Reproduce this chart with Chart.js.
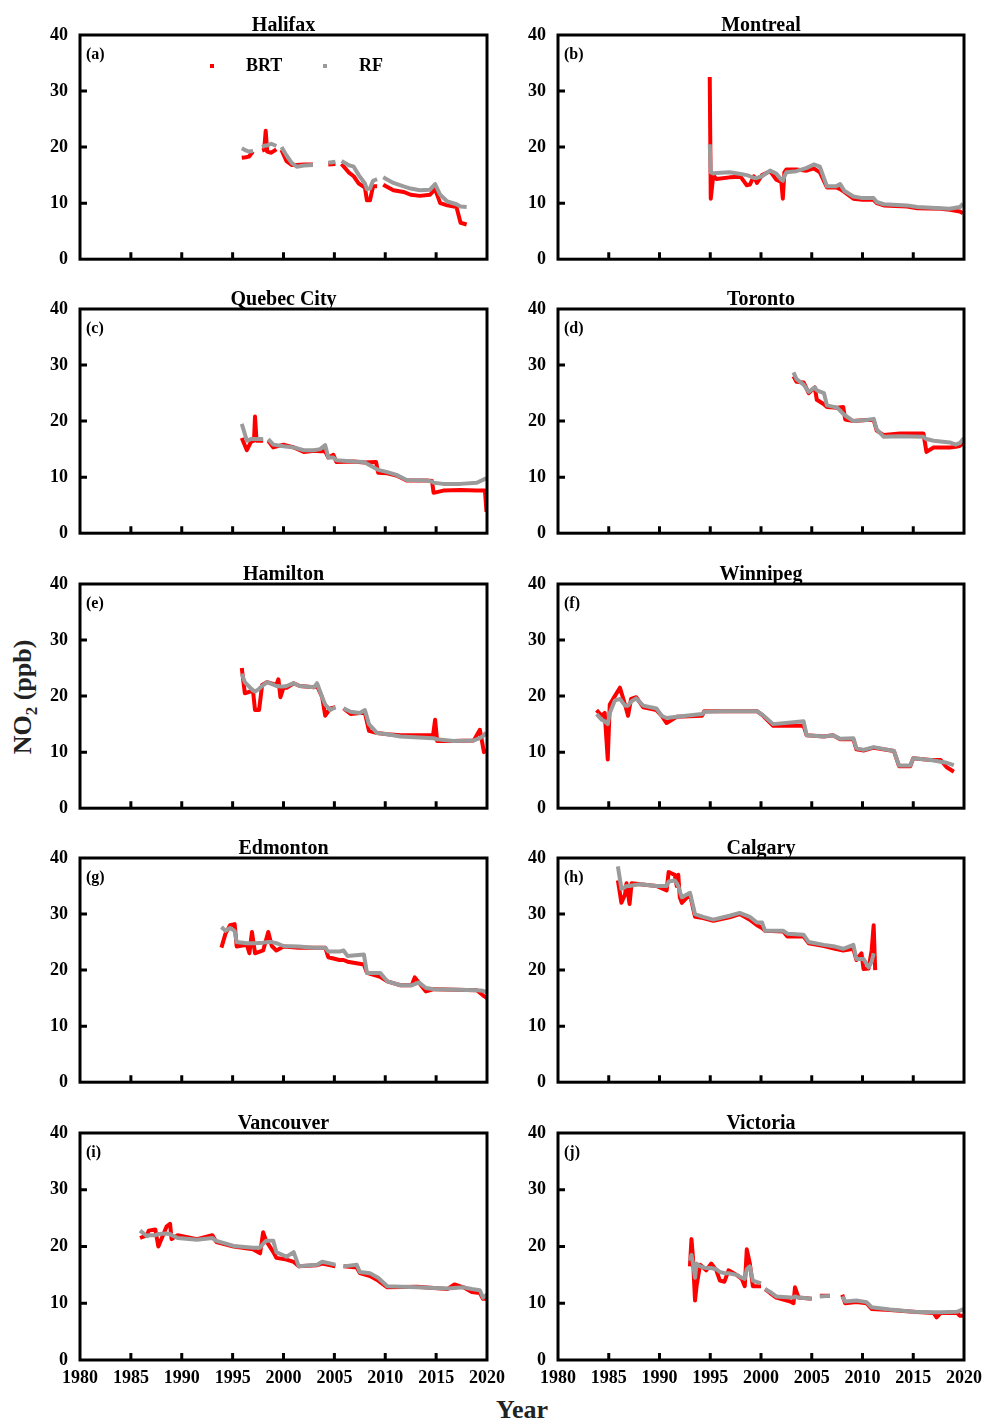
<!DOCTYPE html>
<html>
<head>
<meta charset="utf-8">
<script src="https://cdn.jsdelivr.net/npm/chart.js@4.4.0/dist/chart.umd.min.js"></script>
<style>
  body { margin: 0; background: #fff; }
  #wrap { position: relative; width: 985px; height: 1423px; overflow: hidden; }
  canvas { position: absolute; }
  .axis-title { position: absolute; font-family: "Liberation Serif", "Times New Roman", serif; font-weight: bold; font-size: 26px; color: #222; white-space: nowrap; }
  .axis-title sub { font-size: 17px; }
  #ytitle { left: 25px; top: 697px; transform: translate(-50%, -50%) rotate(-90deg); }
  #xtitle { left: 522px; top: 1410px; transform: translate(-50%, -50%); }
</style>
</head>
<body>
<div id="wrap">
  <div class="axis-title" id="ytitle">NO<sub>2</sub> (ppb)</div>
  <div class="axis-title" id="xtitle">Year</div>
</div>
<script>
// tick labels
const xTicks = [1980, 1985, 1990, 1995, 2000, 2005, 2010, 2015, 2020];
const yTicks = [0, 10, 20, 30, 40];
const seriesNames = ['BRT', 'RF'];
const seriesColors = ['#ff0000', '#9b9b9b'];

// (a) Halifax
const halifaxX = [1995.9, 1996.3, 1996.6, 1997.0, 1997.4, 1997.9, 1998.1, 1998.25, 1998.4, 1998.8, 1999.3, 1999.6, 1999.8, 2000.3, 2000.8, 2001.3, 2002.0, 2002.9, 2003.7, 2004.4, 2005.1, 2005.4, 2005.7, 2006.4, 2006.9, 2007.4, 2008.0, 2008.2, 2008.5, 2008.8, 2009.2, 2009.5, 2009.8, 2010.8, 2011.8, 2012.5, 2013.4, 2014.4, 2014.9, 2015.4, 2016.1, 2017.0, 2017.4, 2018.0];
const halifaxBRT = [18.1, 18.2, 18.3, 19.2, null, 19.4, 19.5, 22.9, 19.2, 19.0, 19.6, null, 19.5, 17.5, 16.8, 16.8, 16.9, 16.9, null, 16.9, 17.0, null, 17.0, 15.5, 14.8, 13.5, 12.8, 10.5, 10.5, 13.0, 13.0, null, 13.3, 12.3, 12.0, 11.5, 11.3, 11.5, 12.5, 10.0, 9.6, 9.3, 6.5, 6.2];
const halifaxRF = [19.8, 19.4, 19.2, 19.3, null, 20.0, 20.2, 20.3, 20.3, 20.6, 20.2, null, 20.0, 18.5, 17.2, 16.5, 16.7, 16.8, null, 17.2, 17.4, null, 17.5, 16.8, 16.5, 15.0, 13.5, 12.5, 12.6, 14.0, 14.3, null, 14.6, 13.6, 13.0, 12.6, 12.3, 12.4, 13.4, 11.5, 10.3, 9.8, 9.4, 9.3];

// (b) Montreal
const montrealX = [1994.95, 1995.05, 1995.3, 1995.6, 1996.9, 1998.0, 1998.6, 1998.9, 1999.3, 1999.6, 2000.1, 2000.9, 2001.5, 2002.0, 2002.15, 2002.3, 2002.5, 2003.5, 2004.5, 2005.2, 2005.8, 2006.5, 2007.4, 2007.8, 2008.2, 2009.1, 2010.0, 2011.1, 2011.4, 2012.1, 2014.4, 2015.4, 2017.7, 2018.6, 2019.6, 2019.9];
const montrealBRT = [32.5, 10.8, 15.0, 14.3, 14.6, 14.7, 13.2, 13.3, 14.8, 13.6, 15.0, 15.7, 14.2, 13.8, 10.8, 15.5, 16.0, 16.0, 15.8, 16.2, 15.5, 12.8, 12.8, 12.5, 12.0, 10.8, 10.6, 10.6, 10.0, 9.6, 9.4, 9.1, 9.0, 8.8, 8.5, 8.2];
const montrealRF = [20.5, 15.5, 15.3, 15.4, 15.5, 15.2, 15.0, 14.8, 14.5, 14.5, 14.8, 15.8, 15.3, 14.2, 14.0, 14.8, 15.5, 15.7, 16.3, 16.9, 16.5, 13.0, 13.0, 13.4, 12.2, 11.2, 10.9, 10.9, 10.2, 9.8, 9.6, 9.3, 9.1, 9.0, 9.3, 9.9];

// (c) Quebec City
const quebecX = [1995.9, 1996.4, 1996.8, 1997.1, 1997.2, 1997.35, 1998.0, 1998.25, 1998.5, 1999.0, 2000.0, 2001.0, 2002.0, 2003.0, 2003.6, 2004.1, 2004.4, 2004.9, 2005.2, 2006.9, 2007.9, 2009.1, 2009.3, 2010.2, 2011.1, 2012.1, 2014.1, 2014.6, 2014.75, 2015.7, 2017.4, 2019.0, 2019.8, 2019.95];
const quebecBRT = [17.0, 14.8, 16.3, 16.5, 20.8, 16.5, 16.5, null, 16.5, 15.3, 15.8, 15.3, 14.5, 14.7, 14.6, 14.6, 13.5, 14.0, 12.7, 12.8, 12.6, 12.7, 10.8, 10.7, 10.3, 9.4, 9.4, 9.3, 7.2, 7.6, 7.7, 7.6, 7.6, 3.8];
const quebecRF = [19.5, 16.5, 16.8, 16.8, 16.8, 16.8, 16.8, null, 16.8, 15.8, 15.5, 15.3, 14.8, 14.8, 15.0, 15.7, 13.5, 13.5, 13.0, 12.8, 12.7, 11.5, 11.3, 10.9, 10.4, 9.5, 9.4, 9.2, 9.0, 8.8, 8.8, 9.0, 9.7, 9.7];

// (d) Toronto
const torontoX = [2003.2, 2003.5, 2004.2, 2004.7, 2005.3, 2005.5, 2006.2, 2006.5, 2007.5, 2008.1, 2008.3, 2009.1, 2010.4, 2011.1, 2011.4, 2012.1, 2013.7, 2016.0, 2016.3, 2017.0, 2018.6, 2019.2, 2019.6, 2020.0];
const torontoBRT = [28.0, 27.0, 26.9, 25.0, 26.0, 23.8, 23.0, 22.5, 22.4, 22.5, 20.3, 20.0, 20.2, 20.2, 18.3, 17.5, 17.8, 17.8, 14.5, 15.3, 15.3, 15.4, 15.6, 16.2];
const torontoRF = [28.7, 27.5, 26.5, 25.2, 26.0, 25.5, 25.0, 22.8, 22.4, 21.3, 21.0, 20.0, 20.2, 20.4, 18.5, 17.2, 17.3, 17.2, 16.8, 16.5, 16.2, 15.8, 16.1, 17.0];

// (e) Hamilton
const hamiltonX = [1995.9, 1996.2, 1997.0, 1997.2, 1997.6, 1997.9, 1998.4, 1999.3, 1999.5, 1999.7, 2000.0, 2000.3, 2001.0, 2001.6, 2003.0, 2003.3, 2003.8, 2004.1, 2004.6, 2005.1, 2005.5, 2005.9, 2006.6, 2007.5, 2008.0, 2008.4, 2009.2, 2010.2, 2011.5, 2014.7, 2014.9, 2015.1, 2016.7, 2018.7, 2019.3, 2019.7, 2019.9];
const hamiltonBRT = [25.0, 20.5, 21.0, 17.5, 17.5, 22.0, 22.5, 22.0, 23.0, 19.8, 21.5, 21.5, 22.3, 21.8, 21.6, 21.8, 19.8, 16.5, 17.8, 18.0, null, 17.8, 16.8, 17.0, 17.0, 13.8, 13.4, 13.2, 13.0, 13.0, 15.8, 12.0, 12.0, 12.1, 14.0, 10.0, 10.5];
const hamiltonRF = [24.0, 22.5, 21.0, 20.8, 21.3, 21.8, 22.5, 21.8, 21.8, 21.7, 21.7, 21.8, 22.3, 21.8, 21.6, 22.3, 19.8, 18.5, 17.5, 18.0, null, 17.8, 17.2, 17.0, 17.5, 15.0, 13.4, 13.2, 12.8, 12.5, 12.4, 12.3, 12.0, 12.1, 12.5, 13.0, 13.5];

// (f) Winnipeg
const winnipegX = [1983.8, 1984.3, 1984.6, 1984.9, 1985.1, 1985.6, 1986.1, 1986.6, 1986.9, 1987.2, 1987.7, 1988.4, 1989.7, 1990.2, 1990.7, 1991.7, 1994.2, 1994.4, 1996.3, 1999.6, 2000.2, 2001.2, 2004.2, 2004.5, 2006.2, 2007.1, 2007.8, 2009.1, 2009.4, 2010.1, 2011.1, 2013.1, 2013.6, 2014.7, 2015.0, 2016.7, 2017.7, 2018.3, 2019.0];
const winnipegBRT = [17.5, 16.5, 17.0, 8.7, 18.5, 20.0, 21.5, 18.5, 16.5, 19.5, 19.8, 18.0, 17.5, 16.5, 15.2, 16.3, 16.5, 17.3, 17.3, 17.3, 16.5, 14.7, 14.7, 13.0, 12.8, 13.0, 12.3, 12.3, 10.5, 10.3, 10.8, 10.2, 7.5, 7.5, 8.9, 8.6, 8.6, 7.3, 6.5];
const winnipegRF = [16.8, 15.8, 15.5, 15.0, 17.0, 19.2, 19.5, 18.3, 18.3, 19.0, 19.6, 18.3, 17.8, 16.5, 16.1, 16.3, 16.8, 17.2, 17.3, 17.3, 16.6, 15.0, 15.5, 13.0, 12.8, 13.0, 12.4, 12.5, 10.7, 10.4, 10.9, 10.2, 7.6, 7.6, 8.9, 8.6, 8.3, 8.1, 7.7];

// (g) Edmonton
const edmontonX = [1993.9, 1994.3, 1994.75, 1995.2, 1995.4, 1996.4, 1996.65, 1996.9, 1997.2, 1998.0, 1998.5, 1998.85, 1999.3, 2000.0, 2001.5, 2003.0, 2004.1, 2004.4, 2005.5, 2005.9, 2006.3, 2007.9, 2008.2, 2009.5, 2010.2, 2011.5, 2012.6, 2012.9, 2013.3, 2014.0, 2014.8, 2017.0, 2019.0, 2019.6, 2020.0];
const edmontonBRT = [24.0, 26.5, 28.0, 28.2, 24.2, 24.5, 23.0, 26.8, 23.0, 23.5, 26.8, 24.3, 23.5, 24.2, 24.0, 24.0, 24.0, 22.3, 21.8, 21.8, 21.5, 21.0, 19.5, 18.8, 18.0, 17.3, 17.3, 18.7, 17.8, 16.2, 16.6, 16.5, 16.4, 15.5, 15.0];
const edmontonRF = [27.7, 27.0, 27.5, 27.0, 25.0, 24.8, 24.8, 24.8, 24.8, 24.9, 25.0, 25.0, 24.8, 24.3, 24.2, 24.0, 24.0, 23.3, 23.3, 23.5, 22.5, 22.8, 19.5, 19.5, 18.0, 17.3, 17.3, 17.5, 17.8, 16.8, 16.6, 16.5, 16.4, 16.3, 16.0];

// (h) Calgary
const calgaryX = [1985.9, 1986.25, 1986.6, 1986.75, 1987.05, 1987.25, 1988.1, 1989.7, 1990.7, 1990.9, 1991.5, 1991.7, 1991.85, 1992.0, 1992.2, 1993.0, 1993.5, 1994.3, 1995.3, 1996.9, 1997.9, 1998.9, 1999.6, 2000.1, 2000.4, 2002.2, 2002.6, 2004.2, 2004.7, 2006.2, 2007.3, 2008.1, 2009.1, 2009.4, 2009.9, 2010.1, 2010.6, 2010.9, 2011.1, 2011.25];
const calgaryBRT = [36.0, 32.0, 33.5, 35.5, 31.8, 35.5, 35.3, 35.0, 34.2, 37.5, 37.0, 35.0, 37.0, 33.0, 32.0, 33.5, 29.5, 29.3, 28.8, 29.4, 30.0, 29.0, 28.0, 27.5, 27.0, 26.9, 26.0, 26.0, 24.8, 24.3, 23.8, 23.5, 23.8, 21.8, 23.0, 20.2, 20.3, 23.5, 28.0, 20.0];
const calgaryRF = [38.5, 34.5, 34.8, 35.0, 35.0, 35.1, 35.3, 35.0, 35.0, 35.8, 36.0, 35.5, 35.0, 34.0, 33.0, 33.8, 30.0, 29.5, 29.0, 29.7, 30.2, 29.5, 28.5, 28.5, 27.0, 27.0, 26.5, 26.3, 25.0, 24.5, 24.2, 23.8, 24.5, 22.0, 22.0, 22.0, 20.5, 21.5, 23.0, null];

// (i) Vancouver
const vancouverX = [1985.9, 1986.6, 1986.75, 1987.4, 1987.7, 1988.5, 1988.85, 1989.0, 1989.6, 1991.5, 1993.0, 1993.4, 1995.1, 1997.0, 1997.7, 1998.0, 1998.3, 1999.0, 1999.3, 2000.3, 2001.0, 2001.5, 2003.3, 2003.8, 2005.1, 2005.5, 2005.9, 2007.2, 2007.5, 2008.5, 2009.3, 2010.2, 2013.1, 2016.1, 2016.8, 2017.7, 2018.5, 2019.3, 2019.6, 2020.0];
const vancouverBRT = [21.5, 22.0, 22.8, 23.0, 20.0, 23.5, 24.0, 21.3, 22.0, 21.3, 22.0, 20.8, 20.0, 19.5, 18.8, 22.5, 21.0, 19.0, 18.0, 17.7, 17.3, 16.5, 16.7, 17.0, 16.5, null, 16.5, 16.3, 15.3, 14.8, 14.0, 12.8, 12.9, 12.5, 13.3, 12.8, 12.0, 11.8, 10.8, 10.8];
const vancouverRF = [22.8, 21.8, 22.0, 22.0, 22.2, 22.3, 22.2, 22.0, 21.5, 21.2, 21.5, 21.0, 20.1, 19.8, 19.8, 20.5, 21.0, 21.0, 19.0, 18.2, 19.0, 16.5, 16.8, 17.3, 16.8, null, 16.5, 16.8, 15.5, 15.3, 14.5, 13.0, 12.8, 12.6, 12.7, 12.8, 12.5, 12.3, 11.0, 11.5];

// (j) Victoria
const victoriaX = [1993.0, 1993.15, 1993.3, 1993.5, 1993.65, 1994.0, 1994.6, 1995.1, 1995.6, 1995.95, 1996.4, 1996.8, 1997.6, 1998.1, 1998.4, 1998.6, 1998.9, 1999.2, 2000.0, 2000.2, 2000.4, 2000.9, 2001.5, 2002.9, 2003.2, 2003.35, 2003.7, 2005.0, 2005.4, 2005.8, 2006.8, 2007.4, 2008.0, 2008.3, 2009.4, 2010.4, 2010.9, 2012.7, 2015.0, 2017.0, 2017.3, 2017.7, 2019.3, 2019.6, 2020.0];
const victoriaBRT = [16.5, 21.3, 18.0, 10.5, 13.0, 16.8, 15.8, 17.0, 15.8, 14.0, 13.8, 15.8, 15.0, 14.3, 13.0, 19.5, 17.0, 13.0, 13.0, null, 12.5, 11.8, 11.0, 10.3, 10.0, 12.8, 11.0, 10.8, null, 11.3, 11.3, null, 11.5, 10.0, 10.2, 10.0, 9.0, 8.8, 8.5, 8.3, 7.5, 8.3, 8.3, 7.8, 7.8];
const victoriaRF = [17.5, 18.5, 17.0, 14.5, 17.0, 16.5, 16.2, 16.2, 16.0, 15.5, 15.3, 15.3, 15.0, 14.5, 14.3, 16.0, 16.5, 14.0, 13.5, null, 12.5, 12.0, 11.2, 11.0, 11.0, 11.2, 11.0, 10.8, null, 11.2, 11.3, null, 11.2, 10.3, 10.5, 10.2, 9.3, 8.9, 8.5, 8.4, 8.4, 8.4, 8.5, 8.7, 9.0];

const panels = [
    { tag: 'a', city: 'Halifax', x: halifaxX, brt: halifaxBRT, rf: halifaxRF },
    { tag: 'b', city: 'Montreal', x: montrealX, brt: montrealBRT, rf: montrealRF },
    { tag: 'c', city: 'Quebec City', x: quebecX, brt: quebecBRT, rf: quebecRF },
    { tag: 'd', city: 'Toronto', x: torontoX, brt: torontoBRT, rf: torontoRF },
    { tag: 'e', city: 'Hamilton', x: hamiltonX, brt: hamiltonBRT, rf: hamiltonRF },
    { tag: 'f', city: 'Winnipeg', x: winnipegX, brt: winnipegBRT, rf: winnipegRF },
    { tag: 'g', city: 'Edmonton', x: edmontonX, brt: edmontonBRT, rf: edmontonRF },
    { tag: 'h', city: 'Calgary', x: calgaryX, brt: calgaryBRT, rf: calgaryRF },
    { tag: 'i', city: 'Vancouver', x: vancouverX, brt: vancouverBRT, rf: vancouverRF },
    { tag: 'j', city: 'Victoria', x: victoriaX, brt: victoriaBRT, rf: victoriaRF }
];

const FONT = '"Liberation Serif", "Times New Roman", serif';
const rowTops = [35, 309, 584, 858, 1133];
const plotH = 227;
// canvas geometry per column: plot spans 80-487 (left) and 558-964 (right)
const colCanvasLeft = [20, 498];
const colCanvasWidth = [500, 487];
const colPadRight = [33, 21];

// frame, inward ticks, title, panel tag, legend
const framePlugin = {
    id: 'frame',
    afterDatasetsDraw(chart, args, opts) {
        const { ctx, chartArea: a, scales } = chart;
        ctx.save();
        ctx.strokeStyle = '#000';
        ctx.lineWidth = 3;
        ctx.strokeRect(a.left, a.top, a.right - a.left, a.bottom - a.top);
        ctx.beginPath();
        xTicks.slice(1, -1).forEach(v => {
            const px = scales.x.getPixelForValue(v);
            ctx.moveTo(px, a.bottom);
            ctx.lineTo(px, a.bottom - 7);
        });
        yTicks.slice(1, -1).forEach(v => {
            const py = scales.y.getPixelForValue(v);
            ctx.moveTo(a.left, py);
            ctx.lineTo(a.left + 7, py);
        });
        ctx.stroke();

        ctx.fillStyle = '#000';
        ctx.font = 'bold 20px ' + FONT;
        ctx.textAlign = 'center';
        ctx.textBaseline = 'alphabetic';
        ctx.fillText(opts.title, (a.left + a.right) / 2, a.top - 4);

        ctx.font = 'bold 16px ' + FONT;
        ctx.textAlign = 'left';
        ctx.textBaseline = 'middle';
        ctx.fillText('(' + opts.tag + ')', a.left + 6, a.top + 20);

        if (opts.legend) {
            const marks = [132, 245];
            ctx.font = 'bold 18px ' + FONT;
            seriesNames.forEach((name, i) => {
                ctx.fillStyle = seriesColors[i];
                ctx.fillRect(a.left + marks[i] - 2, a.top + 29, 4, 4);
                ctx.fillStyle = '#000';
                ctx.fillText(name, a.left + marks[i] + 34, a.top + 31);
            });
        }
        ctx.restore();
    }
};

const wrap = document.getElementById('wrap');

panels.forEach((p, i) => {
    const col = i % 2;
    const row = Math.floor(i / 2);
    const last = row === rowTops.length - 1;
    const xh = last ? 40 : 12;

    const canvas = document.createElement('canvas');
    canvas.width = colCanvasWidth[col];
    canvas.height = 32 + plotH + xh;
    canvas.style.left = colCanvasLeft[col] + 'px';
    canvas.style.top = (rowTops[row] - 32) + 'px';
    canvas.style.width = canvas.width + 'px';
    canvas.style.height = canvas.height + 'px';
    wrap.appendChild(canvas);

    const toPoints = vals => p.x.map((x, k) => ({ x: x, y: vals[k] }));

    new Chart(canvas.getContext('2d'), {
        type: 'line',
        data: {
            datasets: [
                { label: seriesNames[0], data: toPoints(p.brt), borderColor: seriesColors[0], borderWidth: 4, order: 2 },
                { label: seriesNames[1], data: toPoints(p.rf), borderColor: seriesColors[1], borderWidth: 4, order: 1 }
            ]
        },
        options: {
            responsive: false,
            animation: false,
            devicePixelRatio: 1,
            layout: { padding: { top: 32, right: colPadRight[col], left: 0, bottom: 0 } },
            elements: {
                point: { radius: 0 },
                line: { tension: 0, borderJoinStyle: 'round', fill: false }
            },
            plugins: {
                legend: { display: false },
                tooltip: { enabled: false },
                frame: { title: p.city, tag: p.tag, legend: i === 0 }
            },
            scales: {
                x: {
                    type: 'linear',
                    min: 1980, max: 2020,
                    grid: { display: false },
                    border: { display: false },
                    afterBuildTicks: s => { s.ticks = xTicks.map(v => ({ value: v })); },
                    afterFit: s => {
                        s.height = xh;
                        s.paddingLeft = 0;
                        s.paddingRight = 0;
                    },
                    ticks: {
                        display: last,
                        padding: 0,
                        maxRotation: 0,
                        autoSkip: false,
                        color: '#000',
                        font: { family: FONT, size: 18, weight: 'bold' },
                        callback: v => String(v)
                    }
                },
                y: {
                    min: 0, max: 40,
                    grid: { display: false },
                    border: { display: false },
                    afterBuildTicks: s => { s.ticks = yTicks.map(v => ({ value: v })); },
                    afterFit: s => { s.width = 60; },
                    ticks: {
                        padding: 4,
                        color: '#000',
                        font: { family: FONT, size: 18, weight: 'bold' }
                    }
                }
            }
        },
        plugins: [framePlugin]
    });
});
</script>
</body>
</html>
